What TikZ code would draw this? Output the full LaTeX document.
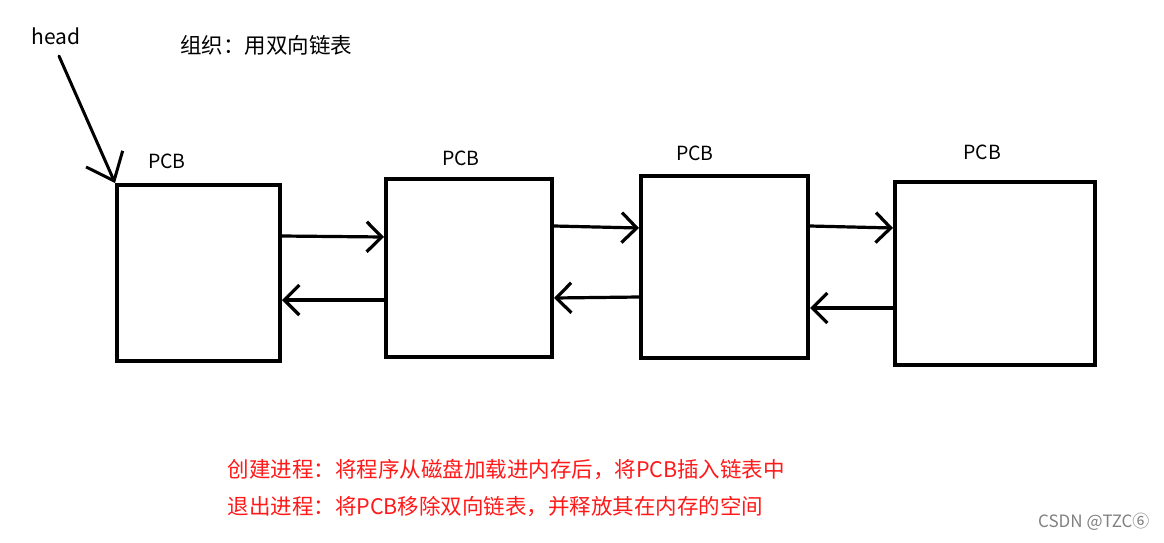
\documentclass[tikz,border=0pt]{standalone}
\usepackage{fontspec}
\setmainfont{Noto Sans CJK SC}
\usetikzlibrary{positioning}
\usetikzlibrary{arrows.meta}
\tikzset{
    pcbbox/.style = {rectangle, line width=4pt, draw=black, fill=white, inner sep=0pt},
    pcblabel/.style = {font=\fontsize{19.5}{22}\selectfont, text=black},
    edgen/.style = {line width=3.2pt, black, line cap=round, -{Straight Barb[length=15pt,width=30pt,line width=3.2pt]}},
    edgeh/.style = {line width=3pt, black, line cap=round, -{Straight Barb[length=24pt,width=40pt,line width=3pt]}},
    notered/.style = {anchor=west, text=red!90!white, font=\fontsize{21.5}{24}\selectfont},
}

\begin{document}
\begin{tikzpicture}[x=1pt,y=-1pt]
\useasboundingbox (0,0) rectangle (1164,542);
\node[pcbbox, minimum width=163pt, minimum height=176pt] at ( 198.5, 273.0) (p1) {};
\node[pcbbox, minimum width=166pt, minimum height=178pt] at ( 469.0, 268.0) (p2) {};
\node[pcbbox, minimum width=167pt, minimum height=182pt] at ( 724.5, 267.0) (p3) {};
\node[pcbbox, minimum width=200pt, minimum height=183pt] at ( 995.0, 273.5) (p4) {};
\node[pcblabel] at ( 167, 161) (l1) {PCB};
\node[pcblabel] at ( 461, 158) (l2) {PCB};
\node[pcblabel] at ( 695, 153) (l3) {PCB};
\node[pcblabel] at ( 982, 152) (l4) {PCB};
\node[pcblabel, font=\fontsize{21}{24}\selectfont] at ( 56, 36) (head) {head};
\node[font=\fontsize{21.5}{24}\selectfont] at ( 266, 45) (title) {组织：用双向链表};
% forward / back links
\draw[edgen] ([yshift=37pt]p1.east) -- ([yshift=31pt]p2.west);
\draw[edgen] ([yshift=-32pt]p2.west) -- ([yshift=-27pt]p1.east);
\draw[edgen] ([yshift=42pt]p2.east) -- ([yshift=39pt]p3.west);
\draw[edgen] ([yshift=-30pt]p3.west) -- ([yshift=-30pt]p2.east);
\draw[edgen] ([yshift=41pt]p3.east) -- ([yshift=45.5pt]p4.west);
\draw[edgen] ([yshift=-34.5pt]p4.west) -- ([yshift=-41pt]p3.east);
% head pointer
\draw[edgeh] ([xshift=3pt,yshift=-8pt]head.south) -- (p1.north west);
\node[notered] at ( 224, 470) (n1) {创建进程：将程序从磁盘加载进内存后，将PCB插入链表中};
\node[notered] at ( 224, 507) (n2) {退出进程：将PCB移除双向链表，并释放其在内存的空间};
\node[anchor=east, text=gray, font=\fontsize{17}{20}\selectfont] at ( 1153, 522) (wm) {CSDN @TZC⑥};
\end{tikzpicture}
\end{document}
